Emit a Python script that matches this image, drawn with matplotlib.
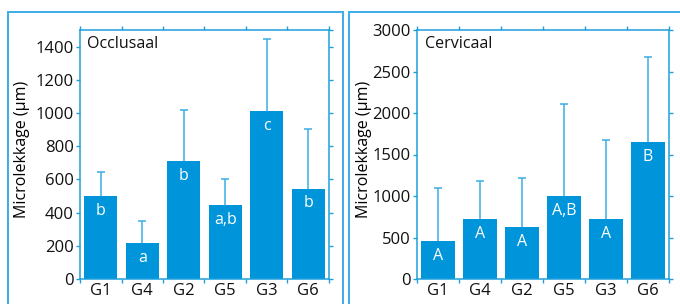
import matplotlib
matplotlib.use("Agg")
import matplotlib.pyplot as plt
import numpy as np
from matplotlib.patches import Rectangle

# data
groepen = ["G1", "G4", "G2", "G5", "G3", "G6"]

occl_gem = [497, 214, 711, 443, 1013, 545]
occl_boven = [647, 350, 1021, 603, 1446, 903]
occl_letters = ["b", "a", "b", "a,b", "c", "b"]

cerv_gem = [454, 720, 623, 997, 720, 1649]
cerv_boven = [1098, 1186, 1214, 2103, 1669, 2670]
cerv_letters = ["A", "A", "A", "A,B", "A", "B"]

BALK = "#0095da"
FOUT = "#3aaee6"
AS = "#1f9fdc"
KADER = "#3aaee6"

plt.rcParams["font.family"] = ["Open Sans", "DejaVu Sans"]
plt.rcParams["font.size"] = 11.5
plt.rcParams["text.color"] = "#111111"
plt.rcParams["xtick.color"] = AS
plt.rcParams["ytick.color"] = AS
plt.rcParams["xtick.labelcolor"] = "#111111"
plt.rcParams["ytick.labelcolor"] = "#111111"


def teken_paneel(ax, gem, boven, letters, titel, ymax, ystap, label_x):
    x = np.arange(len(groepen))
    gem = np.array(gem, dtype=float)
    boven = np.array(boven, dtype=float)

    ax.bar(x, gem, width=0.8, color=BALK, zorder=2)
    _, caps, _ = ax.errorbar(x, gem, yerr=[np.zeros_like(gem), boven - gem], fmt="none",
                             ecolor=FOUT, elinewidth=1.1, capsize=3, capthick=1.1, zorder=1)
    caps[0].set_visible(False)

    for xi, g, lab in zip(x, gem, letters):
        ax.annotate(lab, (xi, g), xytext=(0, -13.5), textcoords="offset points",
                    ha="center", va="baseline", color="white", fontsize=11.5)

    ax.set_xlim(-0.5, len(groepen) - 0.5)
    ax.set_ylim(0, ymax)
    ax.set_xticks(np.arange(-0.5, len(groepen)))
    ax.set_xticklabels([])
    ax.set_xticks(x, minor=True)
    ax.set_xticklabels(groepen, minor=True)
    ax.set_yticks(np.arange(0, ymax + 1, ystap))
    ax.set_yticks([ymax], minor=True)

    ax.tick_params(axis="x", which="major", direction="out", length=3, width=1,
                   top=True, bottom=True)
    ax.tick_params(axis="x", which="minor", length=0, pad=3, labelsize=12)
    ax.tick_params(axis="y", which="major", direction="out", length=3, width=1,
                   left=True, right=True, pad=1.5, labelsize=12)
    ax.tick_params(axis="y", which="minor", direction="out", length=3, width=1,
                   left=False, right=True)
    for s in ax.spines.values():
        s.set_color(AS)
        s.set_linewidth(1.1)

    ax.set_ylabel("Microlekkage (µm)", fontsize=11.5)
    ax.yaxis.set_label_coords(label_x, 0.52)
    ax.text(0.03, 0.945, titel, transform=ax.transAxes, ha="left", va="center", fontsize=11.5)


fig = plt.figure(figsize=(6.8, 3.04), dpi=100)

ax1 = fig.add_axes([80 / 680, 25 / 304, 249 / 680, 249 / 304])
ax2 = fig.add_axes([417 / 680, 25 / 304, 252 / 680, 249 / 304])

teken_paneel(ax1, occl_gem, occl_boven, occl_letters, "Occlusaal", 1500, 200, -0.20)
teken_paneel(ax2, cerv_gem, cerv_boven, cerv_letters, "Cervicaal", 3000, 500, -0.179)

# kaders rond de panelen
for x0, x1 in [(7.5, 343), (349, 700)]:
    fig.add_artist(Rectangle((x0 / 680, -0.2), (x1 - x0) / 680, 1.2 - 12 / 304,
                             transform=fig.transFigure, fill=False,
                             edgecolor=KADER, linewidth=1.4, clip_on=False))

fig.savefig("out.png", dpi=100)
